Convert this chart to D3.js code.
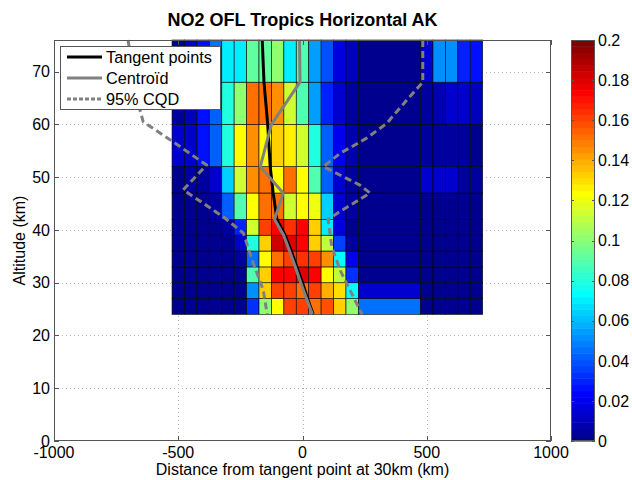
<!DOCTYPE html>
<html>
<head>
<meta charset="utf-8">
<script src="https://cdn.jsdelivr.net/npm/d3@7"></script>
<style>
  body { margin: 0; background: #fff; }
  svg { display: block; font-family: "Liberation Sans", Arial, sans-serif; }
</style>
</head>
<body>
<svg id="chart" width="632" height="480"></svg>
<script>
// cell edges (km)
var xEdges = [-525, -475, -425, -375, -325, -275, -225, -175, -125, -75, -25, 25, 75, 125, 175, 225, 475, 525, 575, 625, 675, 725];
var altEdges = [24, 27, 30, 33, 36, 39, 42, 47, 52, 60, 68, 76];

// AK values, one row per altitude layer (bottom to top)
var akRows = [
  [0.002, 0.002, 0.002, 0.002, 0.002, 0.002, 0.033, 0.103, 0.124, 0.162, 0.160, 0.153, 0.158, 0.134, 0.103, 0.044, 0.003, 0.003, 0.003, 0.003, 0.003],
  [0.002, 0.002, 0.002, 0.002, 0.002, 0.002, 0.053, 0.134, 0.162, 0.160, 0.153, 0.162, 0.140, 0.130, 0.072, 0.015, 0.002, 0.002, 0.002, 0.002, 0.002],
  [0.002, 0.002, 0.002, 0.002, 0.002, 0.002, 0.088, 0.134, 0.172, 0.175, 0.180, 0.172, 0.124, 0.112, 0.032, 0.003, 0.002, 0.002, 0.002, 0.002, 0.002],
  [0.002, 0.002, 0.002, 0.002, 0.002, 0.005, 0.044, 0.124, 0.153, 0.162, 0.165, 0.162, 0.144, 0.072, 0.020, 0.002, 0.002, 0.002, 0.002, 0.002, 0.002],
  [0.002, 0.002, 0.002, 0.002, 0.002, 0.015, 0.081, 0.134, 0.184, 0.180, 0.172, 0.134, 0.112, 0.035, 0.005, 0.002, 0.002, 0.002, 0.002, 0.002, 0.002],
  [0.002, 0.002, 0.002, 0.002, 0.006, 0.031, 0.113, 0.162, 0.175, 0.165, 0.172, 0.134, 0.070, 0.018, 0.003, 0.002, 0.002, 0.002, 0.002, 0.002, 0.002],
  [0.002, 0.002, 0.003, 0.006, 0.042, 0.090, 0.124, 0.153, 0.153, 0.113, 0.124, 0.120, 0.063, 0.015, 0.004, 0.003, 0.003, 0.003, 0.003, 0.003, 0.003],
  [0.003, 0.004, 0.006, 0.015, 0.063, 0.113, 0.144, 0.153, 0.124, 0.152, 0.122, 0.090, 0.042, 0.015, 0.005, 0.003, 0.015, 0.015, 0.015, 0.006, 0.005],
  [0.013, 0.013, 0.027, 0.042, 0.081, 0.124, 0.144, 0.124, 0.134, 0.128, 0.115, 0.080, 0.042, 0.020, 0.008, 0.003, 0.004, 0.004, 0.004, 0.004, 0.003],
  [0.004, 0.010, 0.025, 0.042, 0.081, 0.103, 0.153, 0.153, 0.144, 0.113, 0.090, 0.054, 0.030, 0.015, 0.006, 0.003, 0.006, 0.008, 0.015, 0.013, 0.012],
  [0.006, 0.015, 0.025, 0.044, 0.069, 0.069, 0.092, 0.092, 0.100, 0.070, 0.090, 0.056, 0.040, 0.018, 0.010, 0.003, 0.015, 0.052, 0.052, 0.030, 0.027]
];

// profiles
var tangentAlt = [76, 68, 60, 52, 47, 42, 39, 36, 33, 30, 27, 24];
var tangentX = [-162, -155, -140, -130, -118, -103, -70, -45, -23, 0, 20, 43];
var centroidAlt = [76, 68, 60, 52, 47, 42, 39, 36, 33, 30, 27, 24];
var centroidX = [-12, -10, -125, -170, -78, -112, -76, -52, -29, -7, 16, 40];
var cqdLeftAlt = [76, 68, 62.7, 60.5, 57.1, 52.3, 47.6, 42.5, 39.4, 33.7, 28.6, 24];
var cqdLeftX = [-702, -675, -654, -641, -533, -386, -480, -319, -238, -198, -158, -142];
var cqdRightAlt = [76, 68, 64.6, 60.2, 57.4, 54.5, 52, 48.5, 47, 43.5, 42, 36.8, 32.4, 28.6, 24];
var cqdRightX = [484, 484, 419, 339, 258, 151, 84, 231, 272, 151, 103, 118, 151, 191, 240];

var xTicks = [-1000, -500, 0, 500, 1000];
var yTicks = [0, 10, 20, 30, 40, 50, 60, 70];
var cbTicks = [0, 0.02, 0.04, 0.06, 0.08, 0.1, 0.12, 0.14, 0.16, 0.18, 0.2];

var legendNames = ["Tangent points", "Centro\u00efd", "95% CQD"];

var plotL = 54, plotR = 551, plotT = 40, plotB = 441;
var cMax = 0.2;

// matlab jet(64)
function jet(k) {
  // k = 1..64
  var r, g, b;
  if (k <= 8) { r = 0; g = 0; b = 0.5 + 0.0625 * k; }
  else if (k <= 24) { r = 0; g = 0.0625 * (k - 8); b = 1; }
  else if (k <= 40) { r = 0.0625 * (k - 24); g = 1; b = 1 - 0.0625 * (k - 24); }
  else if (k <= 56) { r = 1; g = 1 - 0.0625 * (k - 40); b = 0; }
  else { r = 1 - 0.0625 * (k - 56); g = 0; b = 0; }
  return d3.rgb(r * 255, g * 255, b * 255).toString();
}
function colorOf(v) {
  var k = Math.floor(v / cMax * 64) + 1;
  k = Math.max(1, Math.min(64, k));
  return jet(k);
}

var x = d3.scaleLinear().domain([-1000, 1000]).range([plotL, plotR]);
var y = d3.scaleLinear().domain([0, 76]).range([plotB, plotT]);

var svg = d3.select("#chart");

svg.append("rect").attr("x", plotL).attr("y", plotT)
  .attr("width", plotR - plotL).attr("height", plotB - plotT).attr("fill", "#fff");

// grid
var grid = svg.append("g").attr("stroke", "#b4b4b4").attr("stroke-width", 1)
  .attr("stroke-dasharray", "1,3");
xTicks.slice(1, -1).forEach(function(t) {
  var px = Math.round(x(t)) + 0.5;
  grid.append("line").attr("x1", px).attr("x2", px).attr("y1", plotT).attr("y2", plotB);
});
yTicks.slice(1).forEach(function(t) {
  var py = Math.round(y(t)) + 0.5;
  grid.append("line").attr("x1", plotL).attr("x2", plotR).attr("y1", py).attr("y2", py);
});

// cells
var cells = [];
akRows.forEach(function(row, i) {
  row.forEach(function(v, j) {
    cells.push({ x0: xEdges[j], x1: xEdges[j + 1], a0: altEdges[i], a1: altEdges[i + 1], v: v });
  });
});
svg.append("g").selectAll("rect").data(cells).enter().append("rect")
  .attr("x", function(d) { return x(d.x0); })
  .attr("y", function(d) { return y(d.a1); })
  .attr("width", function(d) { return x(d.x1) - x(d.x0); })
  .attr("height", function(d) { return y(d.a0) - y(d.a1); })
  .attr("fill", function(d) { return colorOf(d.v); })
  .attr("stroke", "#000").attr("stroke-width", 0.7).attr("stroke-opacity", 0.85);

// profile lines
function profile(xs, alts) {
  return d3.line().x(function(d) { return x(d[0]); }).y(function(d) { return y(d[1]); })(d3.zip(xs, alts));
}
var lines = svg.append("g").attr("fill", "none").attr("stroke-linejoin", "round");
lines.append("path").attr("d", profile(cqdLeftX, cqdLeftAlt))
  .attr("stroke", "#808080").attr("stroke-width", 3).attr("stroke-dasharray", "7,4");
lines.append("path").attr("d", profile(cqdRightX, cqdRightAlt))
  .attr("stroke", "#808080").attr("stroke-width", 3).attr("stroke-dasharray", "7,4");
lines.append("path").attr("d", profile(tangentX, tangentAlt))
  .attr("stroke", "#000").attr("stroke-width", 3);
lines.append("path").attr("d", profile(centroidX, centroidAlt))
  .attr("stroke", "#808080").attr("stroke-width", 3);

// box + inward ticks
var axisColor = "#555";
svg.append("rect").attr("x", plotL + 0.5).attr("y", plotT + 0.5)
  .attr("width", plotR - plotL - 1).attr("height", plotB - plotT - 1)
  .attr("fill", "none").attr("stroke", axisColor).attr("stroke-width", 1);
var tk = svg.append("g").attr("stroke", axisColor).attr("stroke-width", 1);
xTicks.forEach(function(t) {
  var px = Math.round(x(t)) + 0.5;
  tk.append("line").attr("x1", px).attr("x2", px).attr("y1", plotB).attr("y2", plotB - 5);
  tk.append("line").attr("x1", px).attr("x2", px).attr("y1", plotT).attr("y2", plotT + 5);
});
yTicks.forEach(function(t) {
  var py = Math.round(y(t)) + 0.5;
  tk.append("line").attr("x1", plotL).attr("x2", plotL + 5).attr("y1", py).attr("y2", py);
  tk.append("line").attr("x1", plotR).attr("x2", plotR - 5).attr("y1", py).attr("y2", py);
});

// tick labels
var lab = svg.append("g").attr("font-size", 16).attr("fill", "#000");
xTicks.forEach(function(t) {
  lab.append("text").attr("x", x(t)).attr("y", 458).attr("text-anchor", "middle").text(t);
});
yTicks.forEach(function(t) {
  lab.append("text").attr("x", 50).attr("y", y(t)).attr("dy", "0.36em")
    .attr("text-anchor", "end").text(t);
});

// axis titles
svg.append("text").attr("x", (plotL + plotR) / 2).attr("y", 475).attr("text-anchor", "middle")
  .attr("font-size", 16).text("Distance from tangent point at 30km (km)");
svg.append("text").attr("transform", "translate(25," + ((plotT + plotB) / 2) + ") rotate(-90)")
  .attr("text-anchor", "middle").attr("font-size", 16).text("Altitude (km)");
svg.append("text").attr("x", (plotL + plotR) / 2).attr("y", 26).attr("text-anchor", "middle")
  .attr("font-size", 18).attr("font-weight", "bold").text("NO2 OFL Tropics Horizontal AK");

// legend
var lg = svg.append("g");
lg.append("rect").attr("x", 60.5).attr("y", 46.5).attr("width", 160).attr("height", 63)
  .attr("fill", "#fff").attr("stroke", axisColor).attr("stroke-width", 1);
var legendStyles = [
  { stroke: "#000", dash: null },
  { stroke: "#808080", dash: null },
  { stroke: "#808080", dash: "4,2" }
];
legendNames.forEach(function(name, i) {
  var ly = 57 + i * 21;
  var ln = lg.append("line").attr("x1", 67).attr("x2", 102).attr("y1", ly).attr("y2", ly)
    .attr("stroke", legendStyles[i].stroke).attr("stroke-width", 3);
  if (legendStyles[i].dash) ln.attr("stroke-dasharray", legendStyles[i].dash);
  lg.append("text").attr("x", 106).attr("y", ly).attr("dy", "0.36em")
    .attr("font-size", 16.3).text(name);
});

// colorbar
var cbLeft = 571, cbRight = 595;
var cy = d3.scaleLinear().domain([0, cMax]).range([plotB, plotT]);
var cb = svg.append("g");
d3.range(1, 65).forEach(function(k) {
  var y0 = cy((k - 1) / 64 * cMax), y1 = cy(k / 64 * cMax);
  cb.append("rect").attr("x", cbLeft).attr("y", y1).attr("width", cbRight - cbLeft)
    .attr("height", y0 - y1 + 0.5).attr("fill", jet(k));
});
cb.append("rect").attr("x", cbLeft + 0.5).attr("y", plotT + 0.5).attr("width", cbRight - cbLeft - 1)
  .attr("height", plotB - plotT - 1).attr("fill", "none").attr("stroke", axisColor);
cbTicks.forEach(function(t) {
  var py = Math.round(cy(t)) + 0.5;
  cb.append("line").attr("x1", cbLeft).attr("x2", cbLeft + 3).attr("y1", py).attr("y2", py)
    .attr("stroke", axisColor);
  cb.append("line").attr("x1", cbRight).attr("x2", cbRight - 3).attr("y1", py).attr("y2", py)
    .attr("stroke", axisColor);
  cb.append("text").attr("x", 598).attr("y", cy(t)).attr("dy", "0.36em")
    .attr("font-size", 16).text(String(t));
});
</script>
</body>
</html>
